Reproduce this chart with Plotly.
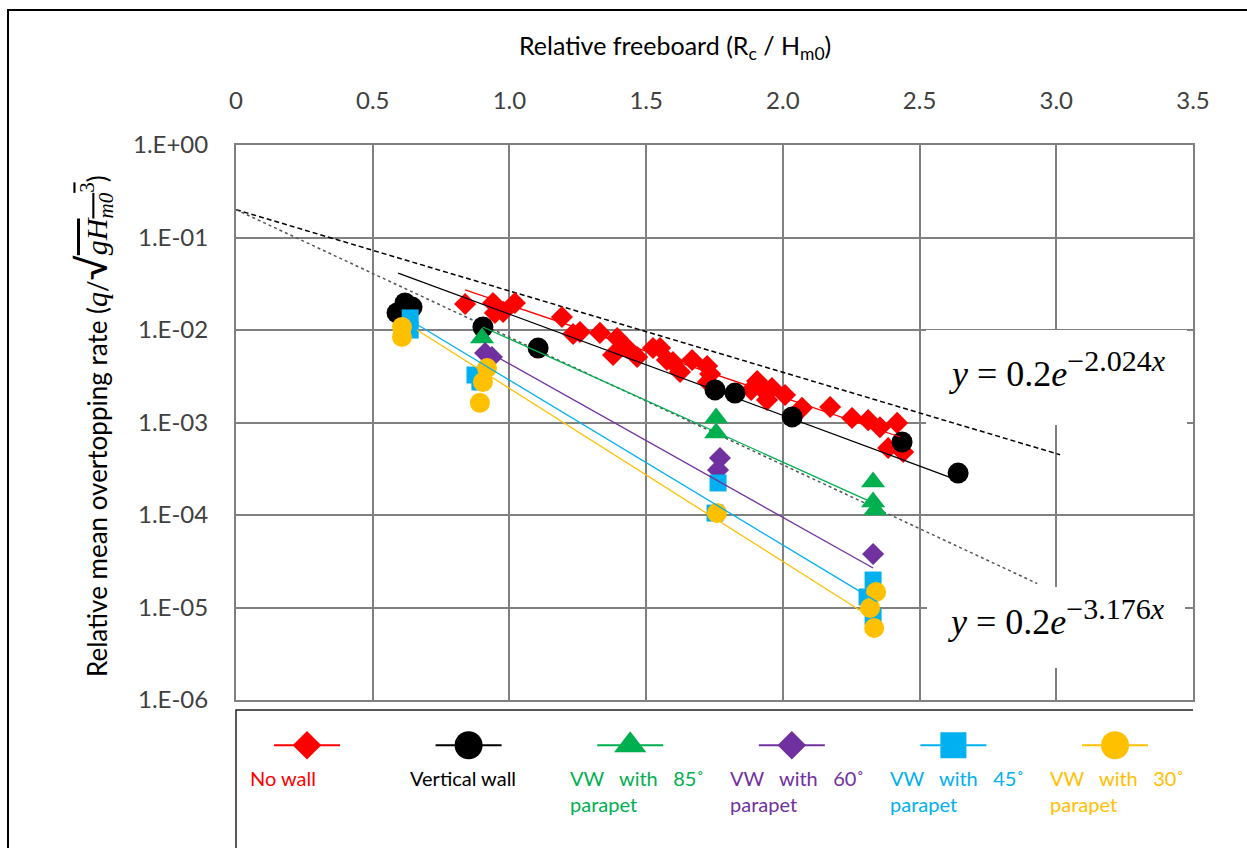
import plotly.graph_objects as go
import numpy as np

# ---------------- data ----------------
nowall_x = [0.838, 0.940, 0.947, 0.977, 1.020, 1.192, 1.233, 1.258, 1.331, 1.379, 1.394, 1.430,
            1.467, 1.525, 1.551, 1.576, 1.598, 1.624, 1.668, 1.723, 1.734, 1.726, 1.884, 1.906,
            1.928, 1.942, 1.960, 2.008, 2.070, 2.173, 2.253, 2.312, 2.355, 2.418, 2.385, 2.440]
nowall_y = [0.0191, 0.0196, 0.0153, 0.0157, 0.0196, 0.0138, 0.00905, 0.0095, 0.0093, 0.00537, 0.0082, 0.0064,
            0.0051, 0.0064, 0.0064, 0.00474, 0.0045, 0.00352, 0.00474, 0.00408, 0.00334, 0.00274, 0.00225, 0.00281,
            0.00225, 0.00175, 0.00236, 0.00198, 0.00144, 0.00147, 0.00112, 0.00106, 0.00089, 0.00099, 0.00053, 0.00048]

vwall_x = [0.589, 0.618, 0.644, 0.903, 1.105, 1.752, 1.825, 2.034, 2.436, 2.641]
vwall_y = [0.0153, 0.0196, 0.0177, 0.01077, 0.00638, 0.00225, 0.00208, 0.00115, 0.000615, 0.000284]

p85_x = [0.900, 1.756, 1.756, 2.330, 2.330, 2.338]
p85_y = [0.0082, 0.00112, 0.00077, 0.000227, 0.000138, 0.000113]

p60_x = [0.911, 0.936, 1.770, 1.763, 2.330]
p60_y = [0.00564, 0.0051, 0.000413, 0.000306, 3.79e-5]

p45_x = [0.637, 0.637, 0.874, 0.892, 1.763, 1.752, 2.330, 2.308, 2.330]
p45_y = [0.0135, 0.0100, 0.00326, 0.00274, 0.000222, 0.000105, 1.98e-5, 1.3e-5, 7.9e-6]

p30_x = [0.607, 0.607, 0.918, 0.903, 0.892, 1.759, 2.341, 2.319, 2.334]
p30_y = [0.0108, 0.0084, 0.00388, 0.00274, 0.00163, 0.000105, 1.47e-5, 9.9e-6, 6.0e-6]

# exponential trendline end points (as drawn in the reference)
trend_nowall_x, trend_nowall_y = [0.838, 2.429], [0.0271, 0.000697]
trend_vwall_x, trend_vwall_y = [0.593, 2.619], [0.0413, 0.000251]
trend_p85_x, trend_p85_y = [0.903, 2.308], [0.01077, 0.000145]
trend_p60_x, trend_p60_y = [0.929, 2.330], [0.00564, 2.67e-5]
trend_p45_x, trend_p45_y = [0.647, 2.345], [0.0122, 1.15e-5]
trend_p30_x, trend_p30_y = [0.662, 2.293], [0.01, 8.9e-6]

# reference formulas y = a*exp(-b*x)
formula_a = 0.2
formula_b = [2.024, 3.176]
formula_xmax = [3.014, 2.93]

series_names = ["No wall", "Vertical wall",
                "VW\u00a0\u00a0\u00a0with\u00a0\u00a0\u00a085˚<br>parapet",
                "VW\u00a0\u00a0\u00a0with\u00a0\u00a0\u00a060˚<br>parapet",
                "VW\u00a0\u00a0\u00a0with\u00a0\u00a0\u00a045˚<br>parapet",
                "VW\u00a0\u00a0\u00a0with\u00a0\u00a0\u00a030˚<br>parapet"]

x_tickvals = [0, 0.5, 1.0, 1.5, 2.0, 2.5, 3.0, 3.5]
x_ticktext = ["0", "0.5", "1.0", "1.5", "2.0", "2.5", "3.0", "3.5"]
y_tickvals = [1, 1e-1, 1e-2, 1e-3, 1e-4, 1e-5, 1e-6]
y_ticktext = ["1.E+00", "1.E-01", "1.E-02", "1.E-03", "1.E-04", "1.E-05", "1.E-06"]

# ---------------- styling ----------------
colors = ["#FF0000", "#000000", "#00B050", "#7030A0", "#00B0F0", "#FFC000"]
symbols = ["diamond", "circle", "triangle-up", "diamond", "square", "circle"]
sizes = [17, 21, 21, 17, 17, 20]
leg_sizes = [22, 28, 28, 22, 26, 28]
FONT = "Lato"
EQFONT = "Liberation Serif"

W, H = 1247, 848
L, R, T, B = 236, 54, 145, 0
PLOT_BOTTOM = 700
ph = H - T - B
pw = W - L - R
main_bottom = (H - PLOT_BOTTOM) / ph
main_h = PLOT_BOTTOM - T
X_PER_PX = 3.5 / pw
DEC_PER_PX = 6.0 / main_h


def px(xp):
    return (xp - L) / pw


def py(yp):
    return (H - yp) / ph


def xval(xp):
    return (xp - L) * X_PER_PX


def yval(yp):
    return 10 ** (-(yp - T) * DEC_PER_PX)


fig = go.Figure()

# white masks behind the equation labels (drawn first: above gridlines, below the data)
for (x0, x1, y0, y1) in [(926, 1187, 330, 425), (927, 1185, 587, 668)]:
    fig.add_trace(go.Scatter(x=[xval(x0), xval(x1), xval(x1), xval(x0), xval(x0)],
                             y=[yval(y0), yval(y0), yval(y1), yval(y1), yval(y0)],
                             mode="lines", fill="toself", fillcolor="white",
                             line=dict(width=0, color="white"), showlegend=False, hoverinfo="skip"))

data = [(nowall_x, nowall_y), (vwall_x, vwall_y), (p85_x, p85_y),
        (p60_x, p60_y), (p45_x, p45_y), (p30_x, p30_y)]
trends = [(trend_nowall_x, trend_nowall_y), (trend_vwall_x, trend_vwall_y), (trend_p85_x, trend_p85_y),
          (trend_p60_x, trend_p60_y), (trend_p45_x, trend_p45_y), (trend_p30_x, trend_p30_y)]

# formula lines
for b, xm, dash, col in zip(formula_b, formula_xmax, ["5px,3px", "dot"], ["#000000", "#555555"]):
    xs = np.array([0.0, xm])
    fig.add_trace(go.Scatter(x=xs, y=formula_a * np.exp(-b * xs), mode="lines",
                             line=dict(color=col, width=1.5, dash=dash), showlegend=False,
                             hoverinfo="skip"))

for i, (xs, ys) in enumerate(data):
    fig.add_trace(go.Scatter(x=xs, y=ys, mode="markers", name=series_names[i].replace("<br>", " "),
                             marker=dict(symbol=symbols[i], size=sizes[i], color=colors[i],
                                         line=dict(width=0)),
                             showlegend=False))

for i, (xs, ys) in enumerate(trends):
    fig.add_trace(go.Scatter(x=xs, y=ys, mode="lines", line=dict(color=colors[i], width=1.3),
                             showlegend=False, hoverinfo="skip"))

# ---------------- custom legend (below plot) ----------------
for i in range(6):
    cx = 71 + 161.6 * i
    fig.add_trace(go.Scatter(x=[cx - 33, cx + 33], y=[45, 45], mode="lines",
                             line=dict(color=colors[i], width=2), xaxis="x2", yaxis="y2",
                             showlegend=False, hoverinfo="skip"))
    fig.add_trace(go.Scatter(x=[cx], y=[45], mode="markers",
                             marker=dict(symbol=symbols[i], size=leg_sizes[i], color=colors[i]),
                             xaxis="x2", yaxis="y2", showlegend=False, hoverinfo="skip"))

annotations = []
for i in range(6):
    tx = 12 + 160 * i
    annotations.append(dict(x=tx, y=64, xref="x2", yref="y2", text=series_names[i],
                            showarrow=False, xanchor="left", yanchor="top", align="left",
                            font=dict(family=FONT, size=20, color=colors[i])))

# axis titles
annotations.append(dict(x=px(675), y=py(47), xref="paper", yref="paper", xanchor="center", yanchor="middle",
                        text="Relative freeboard (R<sub>c</sub> / H<sub>m0</sub>)",
                        showarrow=False, font=dict(family=FONT, size=25, color="#000000")))
annotations.append(dict(x=px(93), y=py(426), xref="paper", yref="paper", textangle=-90,
                        xanchor="center", yanchor="middle",
                        text="Relative mean overtopping rate (<i><span style='font-family:Liberation Serif;font-size:30px'>q</span></i>/"
                             "<span style='font-size:40px'>√</span><span style='text-decoration:overline;font-family:Liberation Serif;font-size:30px'>"
                             "<i>gH</i><sub><i>m0</i></sub><sup>3</sup></span>)",
                        showarrow=False, font=dict(family=FONT, size=26, color="#000000")))

# equations
annotations.append(dict(x=px(1057), y=py(369), xref="paper", yref="paper", xanchor="center", yanchor="middle",
                        text="<i>y</i> = 0.2<i>e</i><sup><span style='font-size:30px'>−2.024<i>x</i></span></sup>",
                        showarrow=False, font=dict(family=EQFONT, size=36, color="#000000")))
annotations.append(dict(x=px(1056), y=py(617), xref="paper", yref="paper", xanchor="center", yanchor="middle",
                        text="<i>y</i> = 0.2<i>e</i><sup><span style='font-size:30px'>−3.176<i>x</i></span></sup>",
                        showarrow=False, font=dict(family=EQFONT, size=36, color="#000000")))

shapes = [
    # outer frame
    dict(type="path", xref="paper", yref="paper",
         path=f"M {px(8)} {py(860)} L {px(8)} {py(10)} L {px(1260)} {py(10)}",
         line=dict(color="#000000", width=2)),
    # legend box
    dict(type="path", xref="paper", yref="paper",
         path=f"M {px(236)} {py(860)} L {px(236)} {py(710)} L {px(1193)} {py(710)}",
         line=dict(color="#222222", width=1.5)),
]

GRID = "#808080"
fig.update_layout(
    width=W, height=H, autosize=False,
    margin=dict(l=L, r=R, t=T, b=B, pad=0),
    paper_bgcolor="white", plot_bgcolor="white",
    font=dict(family=FONT, size=24, color="#404040"),
    xaxis=dict(range=[0, 3.5], side="top", tickvals=x_tickvals, ticktext=x_ticktext,
               showgrid=True, gridcolor=GRID, gridwidth=2, zeroline=False,
               showline=True, linecolor=GRID, linewidth=2, mirror=True,
               ticks="", ticklabelstandoff=24, anchor="y", automargin=False,
               tickfont=dict(family=FONT, size=24, color="#404040")),
    yaxis=dict(type="log", range=[-6, 0], tickvals=y_tickvals, ticktext=y_ticktext,
               showgrid=True, gridcolor=GRID, gridwidth=2, zeroline=False,
               showline=True, linecolor=GRID, linewidth=2, mirror=True,
               ticks="", ticklabelstandoff=21, domain=[main_bottom, 1], anchor="x", automargin=False,
               tickfont=dict(family=FONT, size=24, color="#404040")),
    xaxis2=dict(range=[0, pw], visible=False, domain=[0, 1], anchor="y2", fixedrange=True),
    yaxis2=dict(range=[H - PLOT_BOTTOM, 0], visible=False, domain=[0, main_bottom - 0.0005],
                anchor="x2", fixedrange=True),
    annotations=annotations,
    shapes=shapes,
    showlegend=False,
)

fig.write_html("out.html", config={"displayModeBar": False},
               post_script="document.body.style.margin='0';document.body.style.overflow='hidden';")
